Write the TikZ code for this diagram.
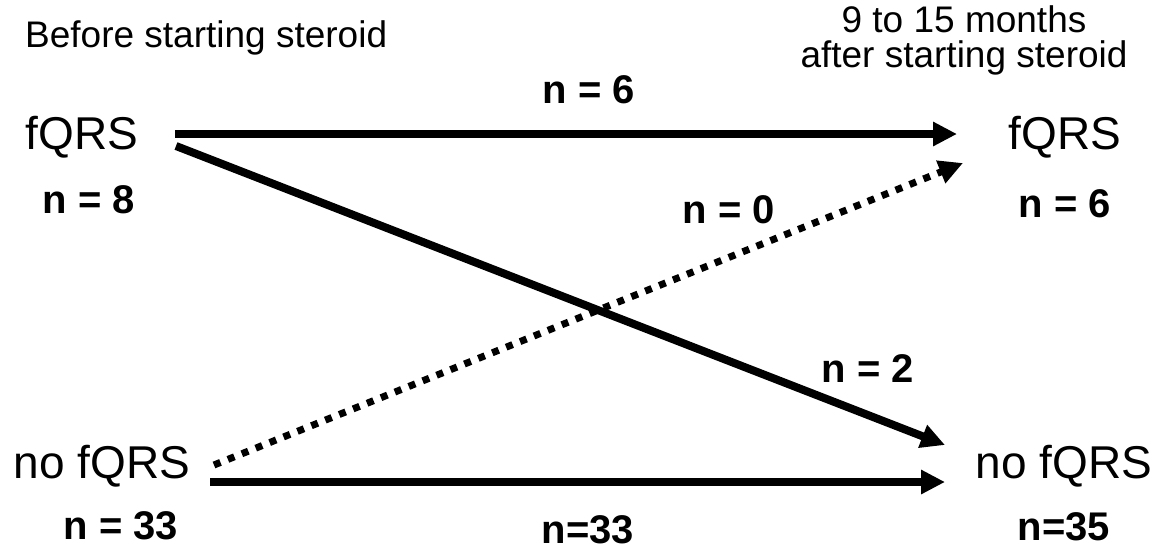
\documentclass[tikz,border=0pt]{standalone}
\usepackage{fontspec}
\setmainfont{Liberation Sans}
\usetikzlibrary{arrows.meta}
\begin{document}
\begin{tikzpicture}[x=1pt,y=-1pt,
  hdr/.style={inner sep=0pt,anchor=base,font=\fontsize{37}{38}\selectfont},
  state/.style={inner sep=0pt,anchor=base,font=\fontsize{46}{48}\selectfont},
  cnt/.style={inner sep=0pt,anchor=base,font=\bfseries\fontsize{40}{42}\selectfont},
  flow/.style={line width=8pt,-{Triangle[length=24pt,width=23pt]}},
  dotflow/.style={line width=7pt,dash pattern=on 7pt off 8pt,-{Triangle[length=24pt,width=23pt]}}]
\useasboundingbox (0,0) rectangle (1166,550);
% headers
\node[hdr,anchor=base west] (hL) at (25,47) {Before starting steroid};
\node[hdr] (hR1) at (964,32) {9 to 15 months};
\node[hdr] (hR2) at (964,67) {after starting steroid};
% states
\node[state] (fL) at (82,149) {fQRS};
\node[cnt] (nL8) at (89,213) {n = 8};
\node[state] (fR) at (1065,149) {fQRS};
\node[cnt] (nR6) at (1065,217) {n = 6};
\node[state] (nfL) at (102,478) {no fQRS};
\node[cnt] (nL33) at (121,539) {n = 33};
\node[state] (nfR) at (1064,478) {no fQRS};
\node[cnt] (nR35) at (1064,540) {n=35};
% flow labels
\node[cnt] (l6) at (589,103) {n = 6};
\node[cnt] (l0) at (729,223) {n = 0};
\node[cnt] (l2) at (868,382) {n = 2};
\node[cnt] (l33) at (588,543) {n=33};
% connector ends
\coordinate (a1) at (175,134);
\coordinate (b1) at (957,134);
\coordinate (a2) at (176,146);
\coordinate (b2) at (945,445);
\coordinate (a3) at (214,465);
\coordinate (b3) at (963,163);
\coordinate (a4) at (210,482);
\coordinate (b4) at (945,482);
\draw[flow] (a1) -- (b1);
\draw[flow] (a2) -- (b2);
\draw[dotflow] (a3) -- (b3);
\draw[flow] (a4) -- (b4);
\end{tikzpicture}
\end{document}
